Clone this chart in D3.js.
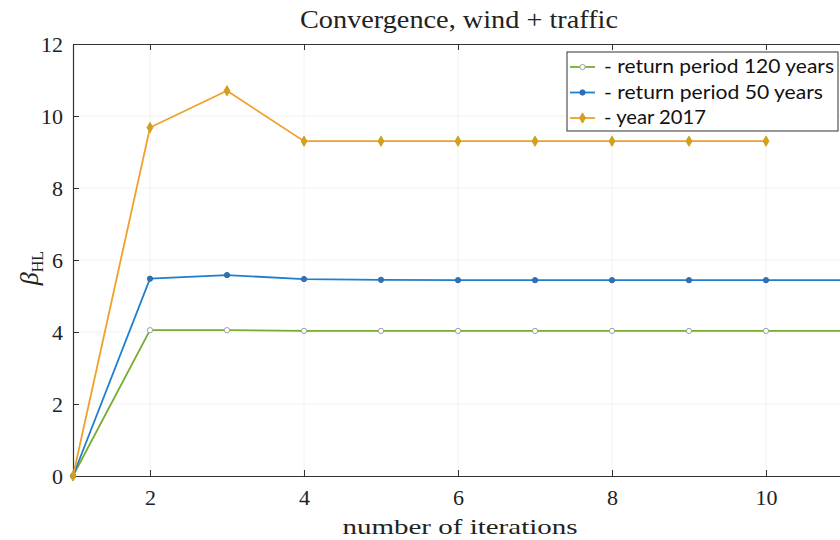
<!DOCTYPE html>
<html><head><meta charset="utf-8">
<script src="https://cdn.jsdelivr.net/npm/d3@7"></script>
<style>body{margin:0;background:#fff}</style>
</head><body>
<svg id="c" width="840" height="540"></svg>
<script>
const iterations = [1,2,3,4,5,6,7,8,9,10,11];
const rp120 = [0,4.05,4.05,4.03,4.03,4.03,4.03,4.03,4.03,4.03,4.03];
const rp50  = [0,5.48,5.58,5.47,5.45,5.44,5.44,5.44,5.44,5.44,5.44];
const y2017 = [0,9.68,10.7,9.3,9.3,9.3,9.3,9.3,9.3,9.3];
const seriesNames = ["- return period 120 years","- return period 50 years","- year 2017"];
const xTicks = [2,4,6,8,10];
const yTicks = [0,2,4,6,8,10,12];

const colors = ["#77AC30","#1f7fcf","#F0A02A"];
const markerColors = ["#a0a0a0","#3070b0","#d0a020"];
const series = [rp120, rp50, y2017];
const legendWidths = [230,219,102];

const svg = d3.select("#c");
const serif = "'Liberation Serif','DejaVu Serif',serif";
const x = d3.scaleLinear().domain([1,11]).range([73,843]);
const y = d3.scaleLinear().domain([0,12]).range([476,44]);

// faint grid
const g = svg.append("g");
g.selectAll(".gx").data(xTicks).enter().append("line")
  .attr("x1",d=>x(d)).attr("x2",d=>x(d)).attr("y1",44).attr("y2",476)
  .attr("stroke","#f2f2f2").attr("stroke-width",1);
g.selectAll(".gy").data(yTicks.slice(1,-1)).enter().append("line")
  .attr("x1",73).attr("x2",840).attr("y1",d=>y(d)).attr("y2",d=>y(d))
  .attr("stroke","#f2f2f2").attr("stroke-width",1);

// axes
const xAxis = d3.axisBottom(x).tickValues(xTicks).tickSizeInner(-6).tickSizeOuter(0).tickPadding(13);
const xa = svg.append("g").attr("transform","translate(0,476)").call(xAxis);
const xTop = d3.axisTop(x).tickValues(xTicks).tickSizeInner(-6).tickSizeOuter(0).tickFormat("");
const xt = svg.append("g").attr("transform","translate(0,44)").call(xTop);
const yAxis = d3.axisLeft(y).tickValues(yTicks).tickSizeInner(-6).tickSizeOuter(0).tickPadding(10);
const ya = svg.append("g").attr("transform","translate(73,0)").call(yAxis);
[xa,xt,ya].forEach(a=>{
  a.selectAll("path").attr("stroke","#333").attr("stroke-width",1.2);
  a.selectAll("line").attr("stroke","#333");
  a.selectAll("text").attr("font-family",serif).attr("font-size",22).attr("fill","#222");
});

// lines
const line = d3.line().x((d,i)=>x(iterations[i])).y(d=>y(d));
series.forEach((s,k)=>{
  svg.append("path").datum(s).attr("d",line).attr("fill","none")
    .attr("stroke",colors[k]).attr("stroke-width",1.8);
});
const sym = [d3.symbol(d3.symbolCircle,22), d3.symbol(d3.symbolCircle,22), d3.symbol(d3.symbolDiamond,30)];
function marker(sel,k){
  sel.attr("d",sym[k]()).attr("fill",k===0?"#fff":markerColors[k])
    .attr("stroke",markerColors[k]).attr("stroke-width",1);
}
series.forEach((s,k)=>{
  svg.append("g").selectAll("path").data(s).enter().append("path")
    .attr("transform",(d,i)=>`translate(${x(iterations[i])},${y(d)})`)
    .call(marker,k);
});

// title
svg.append("text").attr("x",459).attr("y",28).attr("text-anchor","middle")
  .attr("font-family",serif).attr("font-size",25).attr("fill","#222")
  .attr("textLength",318).attr("lengthAdjust","spacingAndGlyphs").text("Convergence, wind + traffic");
// x label
svg.append("text").attr("x",460).attr("y",534).attr("text-anchor","middle")
  .attr("font-family",serif).attr("font-size",22).attr("fill","#222")
  .attr("textLength",235).attr("lengthAdjust","spacingAndGlyphs").text("number of iterations");
// y label
const yl = svg.append("text").attr("transform","translate(38,268) rotate(-90)").attr("text-anchor","middle")
  .attr("font-family",serif).attr("font-size",26).attr("fill","#222");
yl.append("tspan").attr("font-style","italic").text("β");
yl.append("tspan").attr("font-size",16).attr("dy",5).text("HL");

// legend
const lg = svg.append("g");
lg.append("rect").attr("x",567).attr("y",52).attr("width",271).attr("height",79)
  .attr("fill","#fff").attr("stroke","#333").attr("stroke-width",1);
seriesNames.forEach((n,k)=>{
  const yy = 67 + k*25.5;
  lg.append("line").attr("x1",570).attr("x2",595).attr("y1",yy).attr("y2",yy)
    .attr("stroke",colors[k]).attr("stroke-width",1.8);
  lg.append("path").attr("transform",`translate(582.5,${yy})`).call(marker,k);
  lg.append("text").attr("x",604).attr("y",yy+6).attr("font-family","Lato,'Open Sans',sans-serif")
    .attr("font-size",20).attr("fill","#111")
    .attr("textLength",legendWidths[k]).attr("lengthAdjust","spacingAndGlyphs").text(n);
});
</script>
</body></html>
